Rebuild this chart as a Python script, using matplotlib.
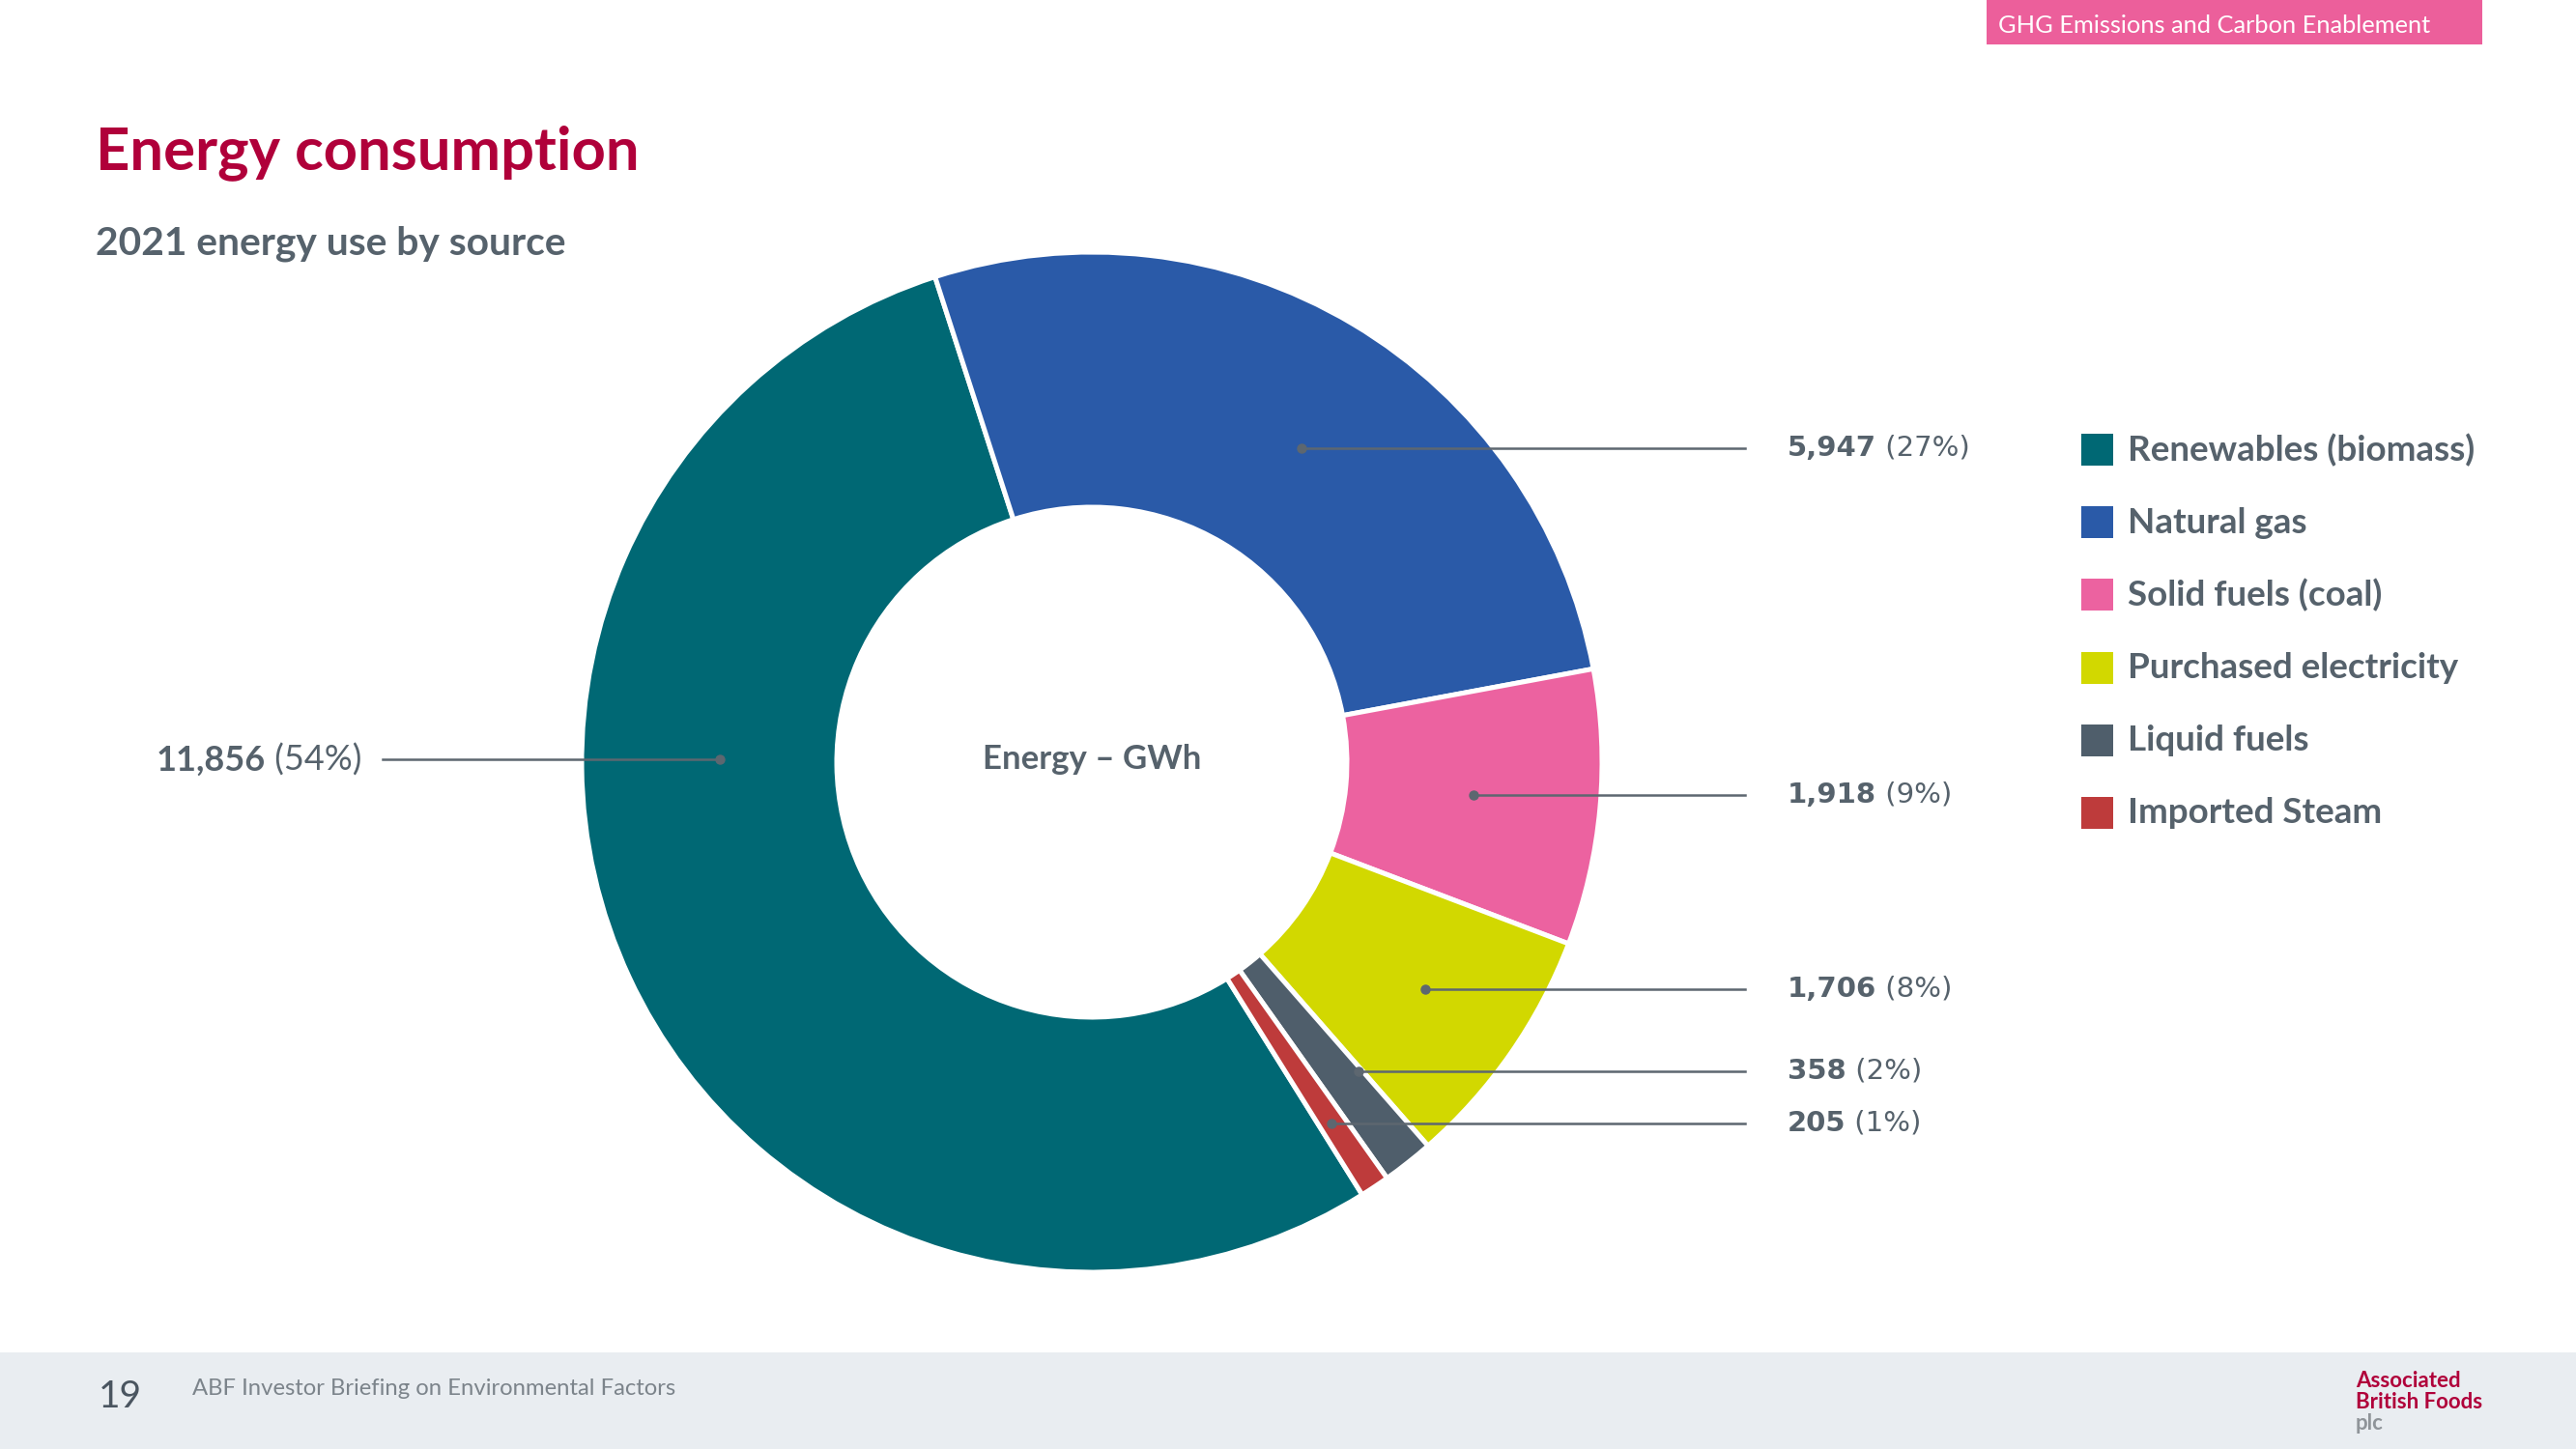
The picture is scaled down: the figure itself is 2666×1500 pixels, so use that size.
import matplotlib
matplotlib.use("Agg")
import numpy as np
import matplotlib.pyplot as plt
from matplotlib.patches import Rectangle

# data
sources = ["Renewables (biomass)", "Natural gas", "Solid fuels (coal)",
           "Purchased electricity", "Liquid fuels", "Imported Steam"]
energy_gwh = [11856, 5947, 1918, 1706, 358, 205]
shares = ["54%", "27%", "9%", "8%", "2%", "1%"]
colors = ["#006874", "#2A5AA8", "#EC62A0", "#D2D800", "#4F5E6B", "#BE3B3B"]

# label layout (offset of label row from donut centre, in radii) and dot radius
label_dy = [0.005, 0.616, -0.064, -0.445, -0.606, -0.708]
dot_r = [0.73, 0.74, 0.75, 0.79, 0.80, 0.85]

W, H = 2666, 1500
GREY = "#56626C"
SANS = ["Lato", "DejaVu Sans"]

fig = plt.figure(figsize=(W / 100, H / 100), dpi=100)
ax = fig.add_axes([0, 0, 1, 1])


def Y(py):
    return H - py


cx, cy, R = 1130, Y(789), 528

ax.pie(energy_gwh, colors=colors, startangle=-58, counterclock=False,
       radius=R, center=(cx, cy),
       wedgeprops=dict(width=R * 0.5, edgecolor="white", linewidth=3.6))
ax.set_xlim(0, W)
ax.set_ylim(0, H)
ax.set_aspect("equal")
ax.axis("off")

# header and footer
ax.add_patch(Rectangle((2056, Y(46)), 513, 46, color="#EC5F9B", lw=0))
ax.text(2068, Y(26), "GHG Emissions and Carbon Enablement", color="white",
        fontsize=18.3, family=SANS, va="center", ha="left")
ax.add_patch(Rectangle((0, 0), W, 100, color="#E9EDF1", lw=0))
ax.text(102, Y(1446), "19", color="#4A5560", fontsize=28, family=SANS,
        va="center", ha="left")
ax.text(199, Y(1438), "ABF Investor Briefing on Environmental Factors",
        color="#7C848B", fontsize=17.2, family=SANS,
        va="center", ha="left")
ax.text(2438, Y(1429), "Associated", color="#B0003A", fontsize=16,
        family=SANS, fontweight="bold", va="center")
ax.text(2438, Y(1451), "British Foods", color="#B0003A", fontsize=16,
        family=SANS, fontweight="bold", va="center")
ax.text(2438, Y(1473), "plc", color="#8F9499", fontsize=16,
        family=SANS, fontweight="bold", va="center")

# titles
ax.text(99, Y(158), "Energy consumption", color="#B0003A", fontsize=44.3,
        family=SANS, fontweight="bold", va="center")
ax.text(99, Y(252), "2021 energy use by source", color=GREY, fontsize=29.3,
        family=SANS, fontweight="bold", va="center")
ax.text(cx, cy + 3, "Energy \u2013 GWh", color=GREY, fontsize=25,
        family=SANS, fontweight="bold", va="center", ha="center")

# leader lines and value labels
for i, v in enumerate(energy_gwh):
    dy = label_dy[i] * R
    dx = np.sqrt((dot_r[i] * R) ** 2 - dy ** 2)
    ly = cy + dy
    if i == 0:
        px = cx - dx
        ax.plot([396, px], [ly, ly], color="#5D6770", lw=1.8)
        ax.plot(px, ly, "o", color="#5D6770", ms=6.5)
        t = ax.text(374, ly, f" ({shares[i]})", color=GREY, fontsize=26,
                    family=SANS, va="center", ha="right")
        ax.annotate(f"{v:,}", xy=(0, 0), xycoords=t, color=GREY,
                    fontsize=26, family=SANS, fontweight="bold",
                    va="bottom", ha="right")
    else:
        px = cx + dx
        ax.plot([px, 1806], [ly, ly], color="#5D6770", lw=1.8)
        ax.plot(px, ly, "o", color="#5D6770", ms=6.5)
        t = ax.text(1850, ly, f"{v:,}", color=GREY, fontsize=21,
                    family="DejaVu Sans", fontweight="bold",
                    va="center", ha="left")
        ax.annotate(f" ({shares[i]})", xy=(1, 0), xycoords=t, color=GREY,
                    fontsize=21, family="DejaVu Sans",
                    va="bottom", ha="left")

# legend
for i, name in enumerate(sources):
    ry = Y(466 + 75.2 * i)
    ax.add_patch(Rectangle((2154, ry - 16), 33, 33, color=colors[i], lw=0))
    ax.text(2202, ry, name, color=GREY, fontsize=26.5, family=SANS,
            fontweight="bold", va="center", ha="left")

fig.savefig("out.png", dpi=100)
